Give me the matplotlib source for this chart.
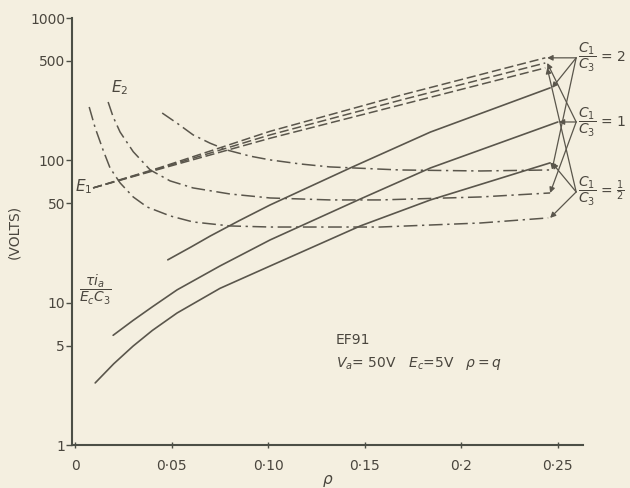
import matplotlib.pyplot as plt

# rho values and volts
# solid lines: tau*ia / (Ec*C3), for C1/C3 = 2, 1, 1/2
rho_s2 = [0.048, 0.060, 0.070, 0.085, 0.101, 0.1425, 0.184, 0.246]
v_s2 = [20.0, 24.6, 29.4, 37.7, 48.6, 88.4, 158, 323]
rho_s1 = [0.0197, 0.030, 0.040, 0.0528, 0.075, 0.101, 0.1477, 0.184, 0.250]
v_s1 = [5.9, 7.5, 9.35, 12.3, 18.1, 27.6, 53.5, 88.4, 186]
rho_sh = [0.0104, 0.020, 0.030, 0.040, 0.0528, 0.075, 0.101, 0.1477, 0.184, 0.246]
v_sh = [2.73, 3.72, 4.95, 6.38, 8.46, 12.6, 18.1, 34.6, 52.7, 96]

# E1 (dashed), three nearly coincident lines
rho_e1 = [0.0093, 0.044, 0.101, 0.17, 0.2435]
v_e1_2 = [64, 89, 160, 290, 525]
v_e1_1 = [64, 88, 151, 268, 483]
v_e1_h = [64, 87, 143, 248, 446]

# E2 (dash-dot)
rho_e2_2 = [0.0451, 0.0534, 0.0611, 0.0699, 0.0788, 0.0907, 0.101, 0.1166, 0.132, 0.168, 0.210, 0.246]
v_e2_2 = [215, 180, 151, 132, 118, 107, 100.7, 94.3, 89.9, 85.6, 84.2, 85.6]
rho_e2_1 = [0.0171, 0.0197, 0.0233, 0.0301, 0.0389, 0.0492, 0.0611, 0.0803, 0.101, 0.132, 0.158, 0.210, 0.246]
v_e2_1 = [257, 202, 158, 115, 85.6, 71.7, 64.0, 58.0, 54.4, 52.7, 52.7, 55.3, 59.0]
rho_e2_h = [0.0073, 0.0104, 0.0145, 0.0181, 0.0233, 0.0301, 0.0373, 0.0492, 0.0611, 0.0803, 0.101, 0.158, 0.210, 0.245]
v_e2_h = [237, 169, 118, 88.4, 69.4, 55.3, 47.0, 40.7, 36.9, 34.6, 34.0, 34.0, 36.3, 39.4]

yticks = [1, 5, 10, 50, 100, 500, 1000]
xticks = [0, 0.05, 0.10, 0.15, 0.20, 0.25]
xticklabels = ['0', '0·05', '0·10', '0·15', '0·2', '0·25']

bg = '#f4efe0'
ink = '#5a564c'
axc = '#4c4f46'
txt = '#4a463e'

fig = plt.figure(figsize=(6.3, 4.88), dpi=100, facecolor=bg)
ax = fig.add_axes([0.1143, 0.0881, 0.811, 0.875])
ax.set_facecolor(bg)

ax.set_yscale('log')
ax.set_ylim(1, 1000)
ax.set_xlim(-0.0016, 0.263)

# solid
for r, v in [(rho_s2, v_s2), (rho_s1, v_s1), (rho_sh, v_sh)]:
    ax.plot(r, v, color=ink, lw=1.2, solid_capstyle='round', solid_joinstyle='round')

# dashed E1
for v in [v_e1_2, v_e1_1, v_e1_h]:
    ax.plot(rho_e1, v, color=ink, lw=1.1, dashes=(6, 2.5))

# dash-dot E2
for r, v in [(rho_e2_2, v_e2_2), (rho_e2_1, v_e2_1), (rho_e2_h, v_e2_h)]:
    ax.plot(r, v, color=ink, lw=1.1, dashes=(9, 3, 1.5, 3))

# axes styling
for s in ['top', 'right']:
    ax.spines[s].set_visible(False)
for s in ['left', 'bottom']:
    ax.spines[s].set_color(axc)
    ax.spines[s].set_linewidth(1.5)

ax.set_yticks(yticks)
ax.set_yticklabels([str(t) for t in yticks])
ax.minorticks_off()
ax.set_xticks(xticks)
ax.set_xticklabels(xticklabels)
ax.tick_params(axis='y', direction='out', length=4, width=1, color=axc,
               labelsize=10, labelcolor=txt, pad=1)
ax.tick_params(axis='x', direction='inout', length=4, width=1, color=axc,
               labelsize=10, labelcolor=txt, pad=8)

ax.text(-0.113, 0.5, '(VOLTS)', transform=ax.transAxes, rotation=90,
        ha='center', va='center', fontsize=10, color=txt)
ax.text(0.50, -0.085, r'$\rho$', transform=ax.transAxes, ha='center',
        va='center', fontsize=11, color=txt, clip_on=False)

# curve labels
ax.text(0.0233, 323, r'$E_2$', fontsize=11, color=txt, ha='center', va='center')
ax.text(0.0047, 65, r'$E_{\rm 1}$', fontsize=11, color=txt, ha='center', va='center')
ax.text(0.0104, 12.3, r'$\dfrac{\tau i_a}{E_c C_3}$', fontsize=10, color=txt,
        ha='center', va='center')
ax.text(0.135, 5.5, 'EF91', fontsize=10, color=txt, ha='left', va='center')
ax.text(0.135, 3.75, r'$V_a$= 50V   $E_c$=5V   $\rho = q$', fontsize=10,
        color=txt, ha='left', va='center')

# ratio labels with arrows to the ends of each curve family
arrow = dict(arrowstyle='-|>', color=ink, lw=0.9, mutation_scale=8, shrinkA=0, shrinkB=0)
groups = [
    (r'$\dfrac{C_1}{C_3}$ = 2', 525, [(0.2445, 525), (0.247, 323), (0.247, 86)]),
    (r'$\dfrac{C_1}{C_3}$ = 1', 186, [(0.2445, 483), (0.2505, 186), (0.246, 59)]),
    (r'$\dfrac{C_1}{C_3}$ = $\frac{1}{2}$', 60, [(0.2445, 446), (0.247, 96), (0.246, 39.4)]),
]
for label, ylab, ends in groups:
    ax.text(0.2605, ylab, label, fontsize=10, color=txt, ha='left',
            va='center', clip_on=False)
    for ex, ey in ends:
        ax.annotate('', xy=(ex, ey), xytext=(0.2595, ylab),
                    arrowprops=arrow, annotation_clip=False)

fig.savefig('out.png', dpi=100, facecolor=bg)
